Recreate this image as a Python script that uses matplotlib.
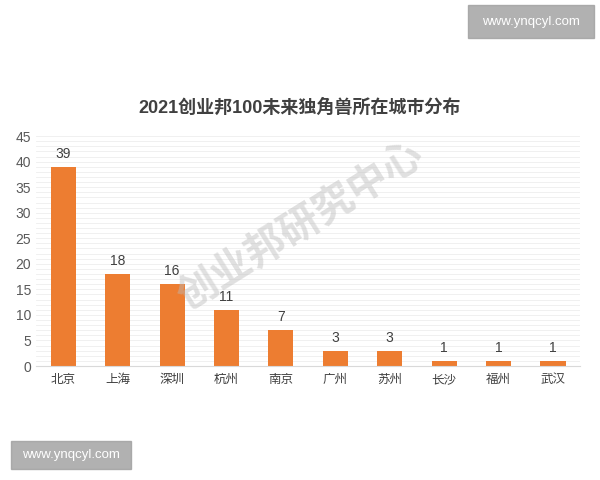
import matplotlib.pyplot as plt
import matplotlib.patches as mpatches

plt.rcParams['font.family'] = ['Liberation Sans', 'Noto Sans CJK JP', 'DejaVu Sans']

cities = ['北京', '上海', '深圳', '杭州', '南京', '广州', '苏州', '长沙', '福州', '武汉']
counts = [39, 18, 16, 11, 7, 3, 3, 1, 1, 1]
yticks = list(range(0, 46, 5))

fig = plt.figure(figsize=(6, 4.8), dpi=100)
ax = fig.add_axes([0.06, 0.2375, 0.907, 0.479])

# 細かい横線
for y in range(1, 46):
    ax.axhline(y, color='#eeeeee', lw=0.6, zorder=0)

bars = ax.bar(range(len(cities)), counts, width=0.46, color='#ed7d31', zorder=2)
for i, v in enumerate(counts):
    ax.text(i, v + 1.2, str(v), ha='center', va='bottom', fontsize=10, color='#404040')

ax.set_xlim(-0.5, len(cities) - 0.5)
ax.set_ylim(0, 45)
ax.set_yticks(yticks)
ax.set_xticks(range(len(cities)))
ax.set_xticklabels(cities, fontsize=9, color='#404040')
ax.tick_params(axis='y', labelsize=10, colors='#595959', length=0)
ax.tick_params(axis='x', length=0, pad=6)
for s in ['top', 'right', 'left']:
    ax.spines[s].set_visible(False)
ax.spines['bottom'].set_color('#d9d9d9')

fig.text(0.5, 0.775, '2021创业邦100未来独角兽所在城市分布', ha='center', va='center',
         fontsize=13, fontweight='bold', color='#404040')

# 透かし
fig.text(0.5, 0.53, '创业邦研究中心', ha='center', va='center', fontsize=29,
         fontweight='bold', color='#bbbbbb', alpha=0.45, rotation=32, zorder=5)

fig.patches.append(mpatches.Rectangle((0.78, 0.92), 0.21, 0.07, transform=fig.transFigure,
                                      color='#9e9e9e', alpha=0.8))
fig.text(0.885, 0.955, 'www.ynqcyl.com', ha='center', va='center', fontsize=9.5, color='white')
fig.patches.append(mpatches.Rectangle((0.018, 0.022), 0.2, 0.06, transform=fig.transFigure,
                                      color='#9e9e9e', alpha=0.8))
fig.text(0.118, 0.052, 'www.ynqcyl.com', ha='center', va='center', fontsize=9.5, color='white')

fig.savefig('out.png')
